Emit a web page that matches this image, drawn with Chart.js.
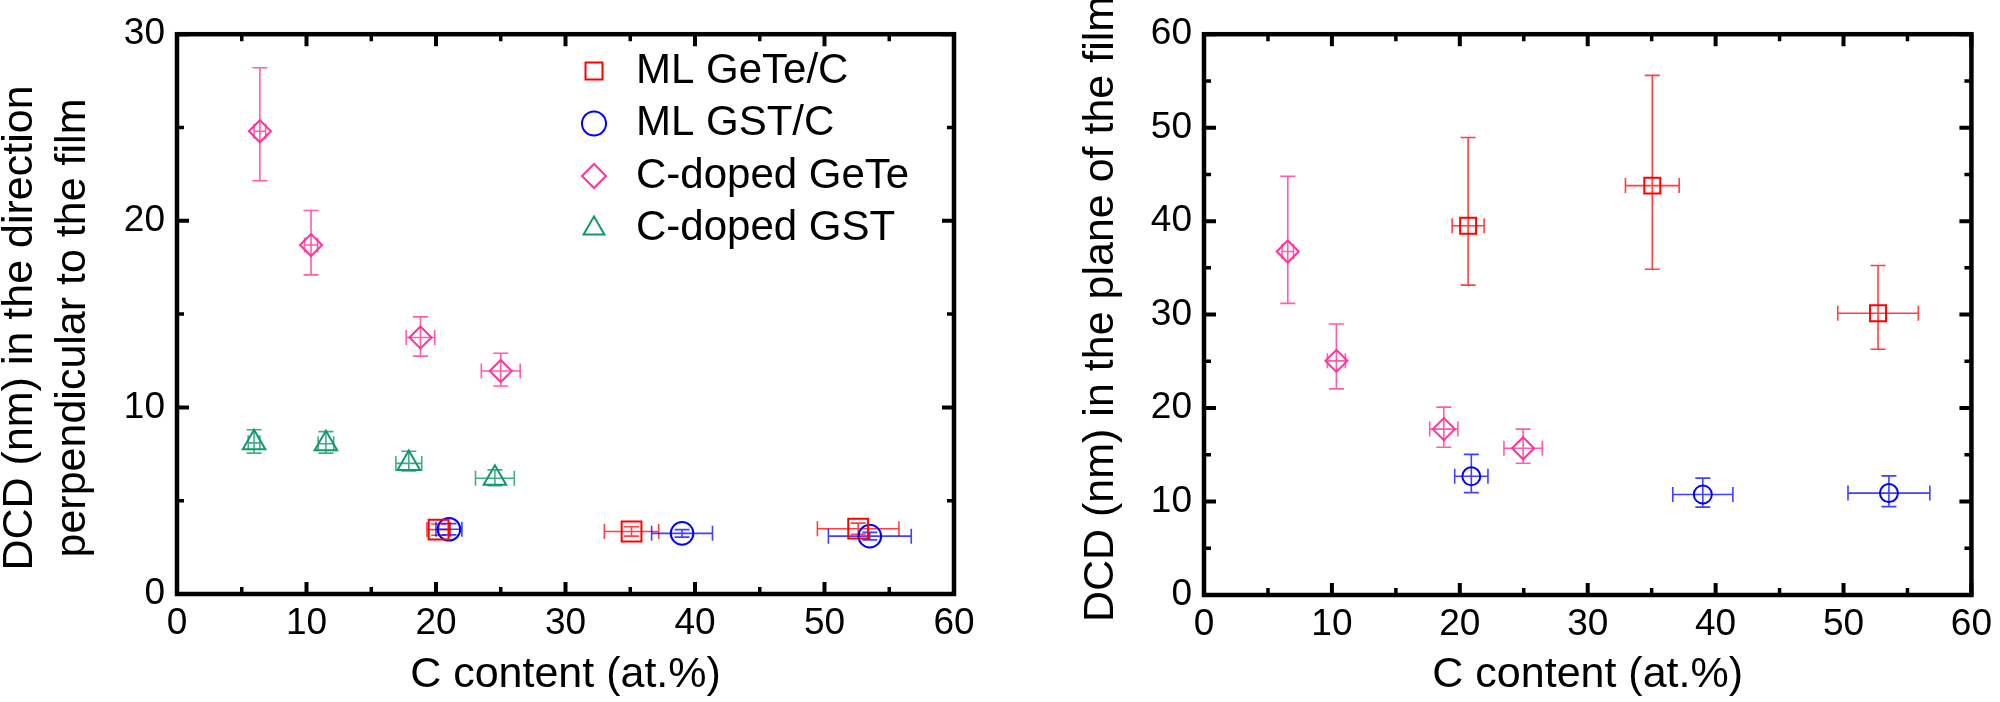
<!DOCTYPE html>
<html>
<head>
<meta charset="utf-8">
<script src="https://cdn.jsdelivr.net/npm/chart.js@4.4.0/dist/chart.umd.min.js"></script>
<style>
  html, body { margin: 0; padding: 0; background: #fff; }
  #wrap { position: relative; width: 2000px; height: 702px; }
  canvas { position: absolute; top: 0; }
  #perpChart { left: 0; }
  #planeChart { left: 1000px; }
</style>
</head>
<body>
<div id="wrap">
  <canvas id="perpChart" width="1000" height="702"></canvas>
  <canvas id="planeChart" width="1000" height="702"></canvas>
</div>
<script>
// tick labels
const xTicks = [0, 10, 20, 30, 40, 50, 60];
const xMinorTicks = [5, 15, 25, 35, 45, 55];
const perpYTicks = [0, 10, 20, 30];
const perpYMinorTicks = [5, 15, 25];
const planeYTicks = [0, 10, 20, 30, 40, 50, 60];
const planeYMinorTicks = [5, 15, 25, 35, 45, 55];

const seriesNames = ['ML GeTe/C', 'ML GST/C', 'C-doped GeTe', 'C-doped GST'];

// left panel: DCD perpendicular to the film
const perpGeTeCX = [20.2, 35.1, 52.6];
const perpGeTeCY = [3.45, 3.35, 3.5];
const perpGeTeCXErr = [0.9, 2.1, 3.15];
const perpGeTeCYUp = [0.3, 0.25, 0.3];
const perpGeTeCYDown = [0.3, 0.25, 0.3];

const perpGstCX = [21.0, 39.0, 53.5];
const perpGstCY = [3.47, 3.25, 3.1];
const perpGstCXErr = [1.0, 2.35, 3.2];
const perpGstCYUp = [0.3, 0.2, 0.2];
const perpGstCYDown = [0.3, 0.2, 0.2];

const perpDopedGeTeX = [6.4, 10.35, 18.8, 25.0];
const perpDopedGeTeY = [24.8, 18.7, 13.75, 11.95];
const perpDopedGeTeXErr = [0.45, 0.5, 1.1, 1.5];
const perpDopedGeTeYUp = [3.4, 1.85, 1.1, 0.95];
const perpDopedGeTeYDown = [2.65, 1.6, 1.0, 0.8];

const perpDopedGstX = [5.95, 11.5, 17.9, 24.55];
const perpDopedGstY = [8.1, 8.05, 7.0, 6.2];
const perpDopedGstXErr = [0.45, 0.6, 1.0, 1.5];
const perpDopedGstYUp = [0.7, 0.65, 0.65, 0.45];
const perpDopedGstYDown = [0.55, 0.5, 0.4, 0.4];

// right panel: DCD in the plane of the film
const planeGeTeCX = [20.65, 35.05, 52.7];
const planeGeTeCY = [39.5, 43.8, 30.15];
const planeGeTeCXErr = [1.25, 2.1, 3.15];
const planeGeTeCYUp = [9.45, 11.8, 5.1];
const planeGeTeCYDown = [6.35, 8.95, 3.85];

const planeGstCX = [20.9, 39.0, 53.55];
const planeGstCY = [12.7, 10.75, 10.9];
const planeGstCXErr = [1.3, 2.35, 3.2];
const planeGstCYUp = [2.35, 1.75, 1.85];
const planeGstCYDown = [1.75, 1.35, 1.45];

const planeDopedGeTeX = [6.55, 10.35, 18.75, 24.95];
const planeDopedGeTeY = [36.75, 25.05, 17.75, 15.7];
const planeDopedGeTeXErr = [0.45, 0.7, 1.1, 1.5];
const planeDopedGeTeYUp = [8.05, 3.95, 2.35, 2.05];
const planeDopedGeTeYDown = [5.55, 3.0, 1.95, 1.6];

const FONT = "'Liberation Sans', Arial, sans-serif";
const styles = [
  { shape: 'rect', color: '#ff0000', bar: 'rgba(255,0,0,0.75)' },
  { shape: 'circle', color: '#0000ff', bar: 'rgba(0,0,255,0.75)' },
  { shape: 'rectRot', color: '#ff3399', bar: 'rgba(255,51,153,0.8)' },
  { shape: 'triangle', color: '#12996a', bar: 'rgba(18,153,106,0.8)' }
];

function points(xs, ys, xErr, yUp, yDown) {
  return xs.map((x, i) => ({ x: x, y: ys[i], xErr: xErr[i], yUp: yUp[i], yDown: yDown[i] }));
}

function series(idx, data, radius) {
  const s = styles[idx];
  return {
    label: seriesNames[idx],
    data: data,
    pointStyle: s.shape,
    pointRadius: radius,
    borderColor: s.color,
    backgroundColor: 'rgba(0,0,0,0)',
    borderWidth: 2,
    errorColor: s.bar
  };
}

// error bars, drawn under the hollow markers
const errorBars = {
  id: 'errorBars',
  beforeDatasetsDraw(chart) {
    const { ctx, scales: { x, y } } = chart;
    const cap = 7.5;
    chart.data.datasets.forEach(ds => {
      ctx.save();
      ctx.strokeStyle = ds.errorColor;
      ctx.lineWidth = 1.6;
      ctx.beginPath();
      ds.data.forEach(p => {
        const px = x.getPixelForValue(p.x);
        const py = y.getPixelForValue(p.y);
        const x0 = x.getPixelForValue(p.x - p.xErr);
        const x1 = x.getPixelForValue(p.x + p.xErr);
        const y0 = y.getPixelForValue(p.y - p.yDown);
        const y1 = y.getPixelForValue(p.y + p.yUp);
        ctx.moveTo(x0, py); ctx.lineTo(x1, py);
        ctx.moveTo(x0, py - cap); ctx.lineTo(x0, py + cap);
        ctx.moveTo(x1, py - cap); ctx.lineTo(x1, py + cap);
        ctx.moveTo(px, y0); ctx.lineTo(px, y1);
        ctx.moveTo(px - cap, y0); ctx.lineTo(px + cap, y0);
        ctx.moveTo(px - cap, y1); ctx.lineTo(px + cap, y1);
      });
      ctx.stroke();
      ctx.restore();
    });
  }
};

// boxed frame with inward ticks on all four sides
const frameTicks = {
  id: 'frameTicks',
  afterDraw(chart, args, opts) {
    const { ctx, chartArea: a, scales: { x, y } } = chart;
    ctx.save();
    ctx.strokeStyle = '#000';
    const marks = (vals, scale, len, width) => {
      ctx.lineWidth = width;
      ctx.beginPath();
      vals.forEach(v => {
        const p = scale.getPixelForValue(v);
        if (scale.isHorizontal()) {
          ctx.moveTo(p, a.bottom); ctx.lineTo(p, a.bottom - len);
          ctx.moveTo(p, a.top); ctx.lineTo(p, a.top + len);
        } else {
          ctx.moveTo(a.left, p); ctx.lineTo(a.left + len, p);
          ctx.moveTo(a.right, p); ctx.lineTo(a.right - len, p);
        }
      });
      ctx.stroke();
    };
    marks(x.ticks.map(t => t.value), x, 12, 4);
    marks(opts.xMinor, x, 7, 3.5);
    marks(y.ticks.map(t => t.value), y, 12, 4);
    marks(opts.yMinor, y, 7, 3.5);
    ctx.lineWidth = 4.5;
    ctx.strokeRect(a.left, a.top, a.width, a.height);
    ctx.restore();
  }
};

// move the legend box into the upper right of the plot
const legendSpot = {
  id: 'legendSpot',
  afterLayout(chart, args, opts) {
    const lg = chart.legend;
    if (!lg || opts.left === undefined) return;
    const w = lg.right - lg.left;
    const h = lg.bottom - lg.top;
    lg.left = opts.left; lg.top = opts.top;
    lg.right = opts.left + w; lg.bottom = opts.top + h;
  }
};

// rotated y title (one or two lines), may run past the plot height
const sideTitle = {
  id: 'sideTitle',
  afterDraw(chart, args, opts) {
    if (!opts.lines) return;
    const { ctx } = chart;
    ctx.save();
    ctx.fillStyle = '#000';
    ctx.font = '43px ' + FONT;
    ctx.textAlign = 'center';
    ctx.textBaseline = 'alphabetic';
    opts.lines.forEach((line, i) => {
      ctx.save();
      ctx.translate(opts.baselines[i], opts.centerY);
      ctx.rotate(-Math.PI / 2);
      ctx.fillText(line, 0, 0);
      ctx.restore();
    });
    ctx.restore();
  }
};

function makeChart(id, datasets, yTicks, yMinor, cfg) {
  const tickFont = { family: FONT, size: 37 };
  return new Chart(document.getElementById(id), {
    type: 'scatter',
    data: { datasets: datasets },
    options: {
      responsive: false,
      animation: false,
      devicePixelRatio: 1,
      events: [],
      layout: { padding: { top: 25, right: cfg.rightPad, bottom: 0, left: 0 } },
      scales: {
        x: {
          type: 'linear',
          min: xTicks[0],
          max: xTicks[xTicks.length - 1],
          afterBuildTicks: s => { s.ticks = xTicks.map(v => ({ value: v })); },
          afterFit: s => { s.height = cfg.xHeight; },
          grid: { display: false, drawTicks: false },
          border: { display: false },
          ticks: { color: '#000', font: tickFont, padding: 8, maxRotation: 0, autoSkip: false },
          title: {
            display: true, text: 'C content (at.%)', color: '#000',
            font: { family: FONT, size: 43, lineHeight: 1.2 }, padding: { top: 0, bottom: 1 }
          }
        },
        y: {
          type: 'linear',
          min: yTicks[0],
          max: yTicks[yTicks.length - 1],
          afterBuildTicks: s => { s.ticks = yTicks.map(v => ({ value: v })); },
          afterFit: s => { s.width = cfg.yWidth; },
          grid: { display: false, drawTicks: false },
          border: { display: false },
          ticks: { color: '#000', font: tickFont, padding: 12, autoSkip: false }
        }
      },
      plugins: {
        legend: {
          display: !!cfg.legend,
          position: 'chartArea',
          align: 'start',
          labels: {
            usePointStyle: true, boxWidth: 42, boxHeight: 17, padding: 10.5,
            color: '#000', font: { family: FONT, size: 42 }
          }
        },
        tooltip: { enabled: false },
        legendSpot: cfg.legend || {},
        frameTicks: { xMinor: xMinorTicks, yMinor: yMinor },
        sideTitle: cfg.yTitle
      }
    },
    plugins: [errorBars, frameTicks, legendSpot, sideTitle]
  });
}

makeChart('perpChart', [
  series(0, points(perpGeTeCX, perpGeTeCY, perpGeTeCXErr, perpGeTeCYUp, perpGeTeCYDown), 14),
  series(1, points(perpGstCX, perpGstCY, perpGstCXErr, perpGstCYUp, perpGstCYDown), 11.3),
  series(2, points(perpDopedGeTeX, perpDopedGeTeY, perpDopedGeTeXErr, perpDopedGeTeYUp, perpDopedGeTeYDown), 11),
  series(3, points(perpDopedGstX, perpDopedGstY, perpDopedGstXErr, perpDopedGstYUp, perpDopedGstYDown), 13)
], perpYTicks, perpYMinorTicks, {
  rightPad: 46, xHeight: 108, yWidth: 177,
  yTitle: { lines: ['DCD (nm) in the direction', 'perpendicular to the film'], baselines: [32, 85], centerY: 328 },
  legend: { left: 562.5, top: 39.5 }
});

makeChart('planeChart', [
  series(0, points(planeGeTeCX, planeGeTeCY, planeGeTeCXErr, planeGeTeCYUp, planeGeTeCYDown), 11.3),
  series(1, points(planeGstCX, planeGstCY, planeGstCXErr, planeGstCYUp, planeGstCYDown), 9),
  series(2, points(planeDopedGeTeX, planeDopedGeTeY, planeDopedGeTeXErr, planeDopedGeTeYUp, planeDopedGeTeYDown), 11)
], planeYTicks, planeYMinorTicks, {
  rightPad: 17, xHeight: 107, yWidth: 204,
  yTitle: { lines: ['DCD (nm) in the plane of the film'], baselines: [113], centerY: 309 }
});
</script>
</body>
</html>
